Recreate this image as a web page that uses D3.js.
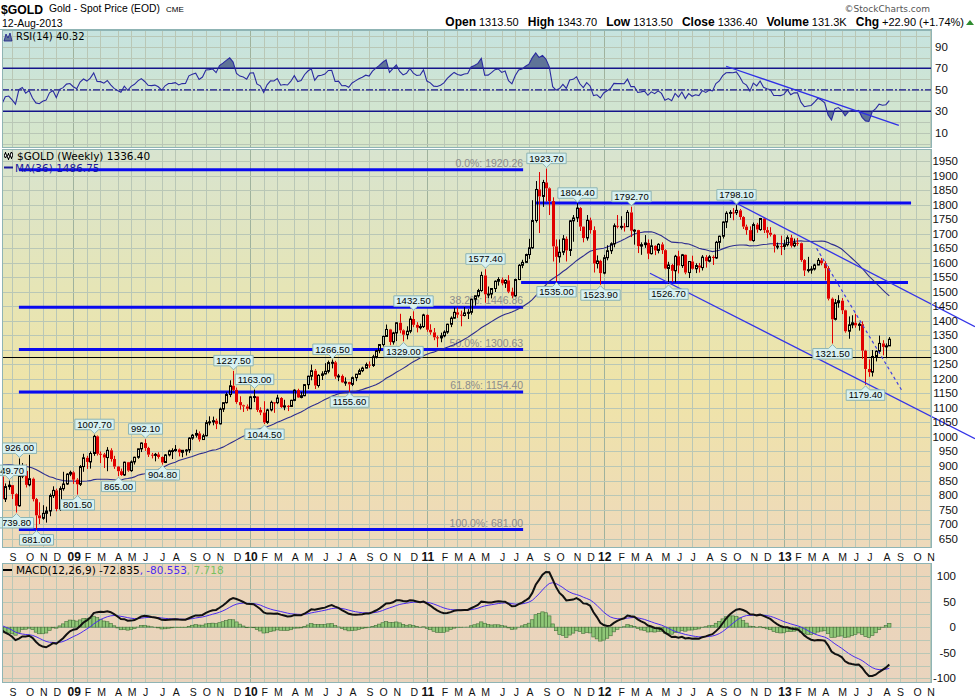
<!DOCTYPE html>
<html><head><meta charset="utf-8">
<script src="https://cdn.jsdelivr.net/npm/d3@7"></script>
<style>body{margin:0;background:#fff}svg{display:block}</style>
</head><body>
<svg id="c" width="975" height="700"></svg>
<script>
// ---------------- DATA ----------------
const firstWeek = "2008-08-11"; // Monday of first weekly bar
// weekly closes of the 36 weeks before the first bar (indicator warm-up)
const preCloses = [797,799,811,843,863,895,881,914,908,922,905,949,975,975,1000,918,933,913,925,922,888,854,884,889,925,884,900,872,903,929,932,965,956,927,913,864];
const closes = [786,829,834,803,763,865,883,835,856,786,730,720,737,745,798,816,752,822,838,872,878,853,837,898,928,914,943,1002,942,940,
929,954,924,898,882,869,913,884,914,930,959,979,962,939,937,940,931,912,938,952,953,957,947,954,955,996,1006,1012,991,1004,
1049,1052,1056,1045,1096,1118,1146,1176,1162,1120,1109,1105,1097,1138,1139,1093,1084,1050,1093,1119,1118,1134,1103,1107,1105,1126,1161,1136,1142,1180,
1209,1228,1177,1212,1217,1226,1256,1257,1208,1210,1188,1189,1181,1204,1216,1228,1237,1249,1246,1276,1297,1318,1346,1370,1327,1358,1393,1367,1352,1364,
1406,1386,1376,1380,1420,1369,1360,1343,1341,1348,1361,1388,1409,1429,1421,1418,1427,1429,1474,1486,1504,1556,1491,1492,1511,1536,1542,1529,1539,1500,
1486,1542,1591,1601,1628,1651,1745,1852,1828,1876,1856,1812,1656,1620,1636,1682,1642,1744,1754,1788,1724,1685,1746,1712,1597,1606,1564,1617,1641,1665,
1727,1725,1725,1724,1773,1710,1712,1657,1662,1668,1631,1658,1642,1663,1643,1580,1592,1572,1622,1590,1627,1566,1604,1579,1590,1583,1619,1605,1620,1616,
1670,1691,1740,1770,1773,1772,1780,1757,1724,1712,1676,1731,1714,1752,1712,1703,1696,1657,1657,1656,1662,1686,1658,1668,1667,1609,1573,1576,1578,1592,
1608,1598,1581,1476,1405,1462,1469,1436,1364,1386,1393,1384,1388,1297,1234,1223,1277,1295,1322,1310,1313.5,1336.4];
const highs = [868,840,849.7,834,806,926,910,905,938,860,790,775,765,760,805,830,822,830,880,875,884,882,858,903,942,935,950,1007.7,1005,950,
945,965,961,935,900,891,915,914,919,932,960,981,992.1,966,945,945,947,933,941,956,961,972,960,955,958,999,1010,1025,1019,1011,
1058,1071,1070,1063,1101,1119,1153,1195,1227.5,1170,1140,1111,1112,1140,1163,1140,1102,1123,1097,1125,1120,1145,1137,1128,1110,1128,1164,1166,1155,1182,
1211,1249,1234,1216,1226,1254,1263,1266.5,1262,1217,1215,1205,1190,1208,1217,1235,1242,1256,1260,1283,1300,1320,1349,1387,1372,1362,1395,1424,1370,1381,
1416,1432.5,1395,1390,1424,1422,1388,1375,1349,1359,1367,1390,1415,1445,1445,1435,1447,1440,1476,1487,1510,1569,1577.4,1518,1512,1539,1550,1549,1543,1557,
1514,1545,1595,1610,1631,1682,1815,1881,1912,1885,1923.7,1859,1825,1680,1680,1695,1690,1747,1764,1804.4,1791,1725,1764,1755,1725,1625,1610,1627,1660,1670,
1735,1764,1760,1736,1781,1792.7,1715,1713,1670,1695,1680,1680,1660,1667,1670,1646,1603,1596,1627,1641,1630,1628,1605,1624,1598,1599,1626,1626,1626,1625,
1675,1693,1742,1777,1781,1788,1798.1,1785,1760,1731,1725,1738,1737,1754,1755,1723,1722,1699,1669,1693,1679,1694,1696,1683,1685,1669,1612,1620,1588,1596,
1616,1616,1605,1588,1480,1475,1488,1478,1438,1415,1419,1424,1394,1398,1300,1267,1299,1298,1349,1333,1322,1343.7];
const lows = [776,776,818,786,739.8,760,858,826,830,778,681,700,715,705,727,790,744,745,815,835,865,838,801.5,831,880,890,891,935,936,910,
893,882,915,890,865,866,866,880,880,905,925,948,952,931,926,916,925,904.8,910,933,924,949,933,930,936,945,990,998,984,990,
1002,1040,1040,1027,1043,1086,1115,1137,1158,1114,1094,1086,1090,1096,1120,1086,1075,1044.5,1045,1088,1083,1113,1100,1092,1089,1103,1123,1134,1133,1140,
1165,1195,1165,1170,1196,1215,1219,1236,1200,1192,1186,1176,1155.6,1175,1192,1214,1223,1236,1238,1241,1270,1288,1310,1345,1316,1318,1330,1357,1329,1336,
1357,1378,1360,1370,1375,1362,1352,1333,1309,1326,1343,1355,1378,1407,1410,1381,1415,1406,1421,1452,1480,1500,1462,1478,1477,1499,1521,1522,1513,1495,
1478,1483,1540,1581,1600,1613,1648,1738,1702,1792,1810,1764,1604,1535,1600,1626,1604,1623,1672,1740,1709,1670,1676,1700,1566,1580,1523.9,1560,1608,1630,
1653,1718,1714,1707,1723,1688,1662,1633,1627,1651,1612,1628,1626,1632,1630,1577,1526.7,1534,1532,1563,1582,1560,1547,1576,1564,1566,1573,1583,1601,1592,
1613,1648,1683,1719,1754,1746,1764,1748,1716,1696,1674,1672,1703,1710,1702,1684,1690,1635,1646,1626,1644,1656,1652,1653,1658,1603,1554,1566,1562,1573,
1591,1591,1539,1470,1321.5,1401,1445,1423,1359,1338,1374,1376,1366,1269,1179.4,1207,1208,1260,1286,1281,1271,1313.5];

const priceTicks = [650,700,750,800,850,900,950,1000,1050,1100,1150,1200,1250,1300,1350,1400,1450,1500,1550,1600,1650,1700,1750,1800,1850,1900,1950];
const rsiTicks = [10,30,50,70,90];
const macdTicks = [-100,-50,0,50,100];
const monthLetters = ["J","F","M","A","M","J","J","A","S","O","N","D"];

// Fibonacci retracement levels (label, value) and their span in week index
const fibLabels = ["0.0%","38.2%","50.0%","61.8%","100.0%"];
const fibValues = [1920.26,1446.86,1300.63,1154.40,681.00];
const fibSpan = [5, 153.3];
// thick horizontal support/resistance lines: [fromWeek, toWeek, value]
const hLines = [[156.8, 267.4, 1805], [152.7, 266.5, 1531.5]];
const blackLine = 1276;
// thin trend lines: [[week, price],[week, price]]
const trendLines = [[[210.9,1835.4],[286.2,1379.6]], [[190.6,1563.4],[286.2,994]]];
const dashedTrend = [[239.6,1649.5],[264.6,1161.7]];
const rsiTrend = [[213,71.9],[263.8,17]];
// price annotations: [week, value, position]
const annotations = [[2,849.70,"a"],[4,739.80,"b"],[5,926.00,"a"],[10,681.00,"b"],[22,801.50,"b"],[27,1007.70,"a"],[34,865.00,"b"],
[42,992.10,"a"],[47,904.80,"b"],[68,1227.50,"a"],[74,1163.00,"a"],[77,1044.50,"b"],[97,1266.50,"a"],[102,1155.60,"b"],[118,1329.00,"b"],
[121,1432.50,"a"],[142,1577.40,"a"],[160,1923.70,"a"],[163,1535.00,"b"],[169,1804.40,"a"],[176,1523.90,"b"],[185,1792.70,"a"],
[196,1526.70,"b"],[216,1798.10,"a"],[244,1321.50,"b"],[254,1179.40,"b"]];

// ---------------- INDICATORS ----------------
const all = preCloses.concat(closes);
const N0 = preCloses.length;
function smaCalc(a,n){return a.map((v,i)=> i<n-1?null:d3.mean(a.slice(i-n+1,i+1)));}
function emaCalc(a,n,start){const o=new Array(a.length).fill(null);const k=2/(n+1);let s=0;for(let i=start;i<start+n;i++)s+=a[i];o[start+n-1]=s/n;for(let i=start+n;i<a.length;i++)o[i]=a[i]*k+o[i-1]*(1-k);return o;}
function rsiCalc(a,n){const o=new Array(a.length).fill(null);let g=0,l=0;for(let i=1;i<=n;i++){const d=a[i]-a[i-1];if(d>0)g+=d;else l-=d;}g/=n;l/=n;o[n]=100-100/(1+g/l);
 for(let i=n+1;i<a.length;i++){const d=a[i]-a[i-1];g=(g*(n-1)+Math.max(d,0))/n;l=(l*(n-1)+Math.max(-d,0))/n;o[i]=l===0?100:100-100/(1+g/l);}return o;}
const ma36 = smaCalc(all,36).slice(N0);
const rsi = rsiCalc(all,14).slice(N0);
const e12 = emaCalc(all,12,0), e26 = emaCalc(all,26,0);
const macdAll = all.map((v,i)=> i>=25 ? e12[i]-e26[i] : null);
const sigAll = emaCalc(macdAll,9,25);
const macd = macdAll.slice(N0), signal = sigAll.slice(N0);
const hist = macd.map((v,i)=>v-signal[i]);
const opens = closes.map((c,i)=> i===0 ? preCloses[preCloses.length-1] : closes[i-1]);

// ---------------- LAYOUT ----------------
const SANS="'Liberation Sans', Arial, sans-serif", VER="'DejaVu Sans', Verdana, sans-serif";
const PX0=2, PX1=932;
const P = {rsi:[30,148], main:[149,548], macd:[563,683]};
const x = d3.scaleLinear().domain([0,273.5]).range([1.9,931.8]);
const yP = d3.scaleLinear().domain([650,1950]).range([538.6,161]);
const yR = d3.scaleLinear().domain([30,70]).range([111.3,68.3]);
const yM = d3.scaleLinear().domain([-100,100]).range([678.3,576]);

const svg = d3.select("#c");
const defs = svg.append("defs");
function grad(id,stops,y0,y1){const g=defs.append("linearGradient").attr("id",id).attr("gradientUnits","userSpaceOnUse")
 .attr("x1",0).attr("x2",0).attr("y1",y0).attr("y2",y1);stops.forEach(([o,c])=>g.append("stop").attr("offset",o).attr("stop-color",c));}
grad("gR",[[0,"#c6e3df"],[1,"#d7e6c9"]],P.rsi[0],P.rsi[1]);
grad("gM",[[0,"#d8e4d0"],[0.35,"#e6e5b6"],[0.6,"#efe4a8"],[1,"#eed9bb"]],P.main[0],P.main[1]);
grad("gC",[[0,"#ecd5b9"],[1,"#e9d4be"]],P.macd[0],P.macd[1]);
Object.entries(P).forEach(([k,[a,b]])=>{defs.append("clipPath").attr("id","clip-"+k).append("rect").attr("x",PX0).attr("y",a).attr("width",PX1-PX0).attr("height",b-a);});

// month starts
const t0 = new Date(firstWeek+"T00:00:00Z");
const wd = i => new Date(t0.getTime()+i*7*864e5);
const months=[];
for(let i=1;i<=273;i++){const d=wd(i),p=wd(i-1);if(d.getUTCMonth()!==p.getUTCMonth())months.push({i,m:d.getUTCMonth(),y:d.getUTCFullYear()});}

function panel(key,fill,ys,yScale){
  const [a,b]=P[key];
  svg.append("rect").attr("x",PX0).attr("y",a).attr("width",PX1-PX0).attr("height",b-a).attr("fill",fill);
  const g=svg.append("g").attr("clip-path",`url(#clip-${key})`);
  g.selectAll("line.v").data(months).join("line").attr("x1",d=>Math.round(x(d.i))+0.5).attr("x2",d=>Math.round(x(d.i))+0.5)
   .attr("y1",a).attr("y2",b).attr("stroke",d=>d.m===0?"#9fb29d":"#b9c7b6").attr("stroke-width",1);
  g.selectAll("line.h").data(ys).join("line").attr("x1",PX0).attr("x2",PX1).attr("y1",d=>Math.round(yScale(d))+0.5).attr("y2",d=>Math.round(yScale(d))+0.5)
   .attr("stroke","#b9c7b6").attr("stroke-width",1);
}
panel("rsi","url(#gR)",d3.range(0,101,10),yR);
panel("main","url(#gM)",d3.range(600,2001,50),yP);
panel("macd","url(#gC)",d3.range(-100,126,25),yM);

// ---------------- HEADER ----------------
svg.append("text").attr("x",1).attr("y",14).attr("font-family",SANS).attr("font-weight","bold").attr("font-size",12.5)
 .attr("textLength",42).attr("lengthAdjust","spacingAndGlyphs").attr("fill","#000").text("$GOLD");
svg.append("text").attr("x",49).attr("y",12).attr("font-family",SANS).attr("font-size",10.5)
 .attr("textLength",111).attr("lengthAdjust","spacingAndGlyphs").attr("fill","#000").text("Gold - Spot Price (EOD)");
svg.append("text").attr("x",166).attr("y",12).attr("font-family",SANS).attr("font-size",8).attr("fill","#000").text("CME");
svg.append("text").attr("x",2).attr("y",26.5).attr("font-family",SANS).attr("font-size",10.5).attr("fill","#000").text("12-Aug-2013");
svg.append("text").attr("x",930).attr("y",12).attr("text-anchor","end").attr("font-family",VER).attr("font-size",9).attr("fill","#555").text("\u00A9StockCharts.com");
const info=svg.append("text").attr("x",964).attr("y",26).attr("text-anchor","end").attr("font-family",SANS).attr("fill","#000").attr("xml:space","preserve");
[["Open","1313.50"],["High","1343.70"],["Low","1313.50"],["Close","1336.40"],["Volume","131.3K"],["Chg","+22.90 (+1.74%)"]].forEach(([k,v],j)=>{
  info.append("tspan").attr("font-weight","bold").attr("font-size",12).attr("dx",j?9:0).text(k);
  info.append("tspan").attr("font-size",11).attr("dx",3).text(v);
});
svg.append("path").attr("d","M966,25 L970,20 L974,25 Z").attr("fill","#2e8b2e");

// ---------------- RSI ----------------
const gR = svg.append("g").attr("clip-path","url(#clip-rsi)");
const idx = d3.range(closes.length);
defs.append("clipPath").attr("id","above70").append("rect").attr("x",0).attr("y",0).attr("width",975).attr("height",yR(70));
defs.append("clipPath").attr("id","below30").append("rect").attr("x",0).attr("y",yR(30)).attr("width",975).attr("height",200);
gR.append("g").attr("clip-path","url(#above70)").append("path").datum(idx)
 .attr("d",d3.area().x(i=>x(i)).y0(yR(70)).y1(i=>yR(rsi[i]))).attr("fill","#5f7498");
gR.append("g").attr("clip-path","url(#below30)").append("path").datum(idx)
 .attr("d",d3.area().x(i=>x(i)).y0(yR(30)).y1(i=>yR(rsi[i]))).attr("fill","#5f7498");
[70,30].forEach(v=>gR.append("line").attr("x1",PX0).attr("x2",PX1).attr("y1",yR(v)).attr("y2",yR(v)).attr("stroke","#14148a").attr("stroke-width",1.5));
gR.append("line").attr("x1",PX0).attr("x2",PX1).attr("y1",yR(50)).attr("y2",yR(50)).attr("stroke","#14148a").attr("stroke-width",1.2).attr("stroke-dasharray","7,2,2,2");
gR.append("path").datum(idx).attr("d",d3.line().x(i=>x(i)).y(i=>yR(rsi[i]))).attr("fill","none").attr("stroke","#2a2aa0").attr("stroke-width",1.1);
svg.append("line").attr("x1",x(rsiTrend[0][0])).attr("y1",yR(rsiTrend[0][1])).attr("x2",x(rsiTrend[1][0])).attr("y2",yR(rsiTrend[1][1]))
 .attr("stroke","#2f2fe6").attr("stroke-width",1.3);
svg.append("path").attr("d","M4,41 L6,34 L8,38 L10,33 L12,41 Z").attr("fill","#5f7498").attr("stroke","#1a1a8c").attr("stroke-width",0.8);
svg.append("text").attr("x",16).attr("y",40).attr("font-family",VER).attr("font-size",10).attr("fill","#000").text("RSI(14) 40.32");

// ---------------- MAIN ----------------
const gM = svg.append("g").attr("clip-path","url(#clip-main)");
fibValues.forEach((v,j)=>{
  gM.append("line").attr("x1",x(fibSpan[0])).attr("x2",x(fibSpan[1])).attr("y1",yP(v)).attr("y2",yP(v)).attr("stroke","#0a0af0").attr("stroke-width",3);
  gM.append("text").attr("x",x(fibSpan[1])).attr("y",yP(v)-3).attr("text-anchor","end").attr("font-family",SANS).attr("font-size",10.5)
   .attr("fill","#8c8c8c").text(`${fibLabels[j]}: ${v.toFixed(2)}`);
});
hLines.forEach(([a,b,v])=>gM.append("line").attr("x1",x(a)).attr("x2",x(b)).attr("y1",yP(v)).attr("y2",yP(v)).attr("stroke","#0a0af0").attr("stroke-width",3));
gM.append("line").attr("x1",PX0).attr("x2",PX1).attr("y1",Math.round(yP(blackLine))+0.5).attr("y2",Math.round(yP(blackLine))+0.5).attr("stroke","#000").attr("stroke-width",1);
gM.append("path").datum(idx).attr("d",d3.line().x(i=>x(i)).y(i=>yP(ma36[i]))).attr("fill","none").attr("stroke","#2d2d8f").attr("stroke-width",1.1);
const cg = gM.append("g");
idx.forEach(i=>{
  const o=opens[i],c=closes[i],h=highs[i],l=lows[i];
  const up=c>=o, col=up?"#000":"#e00000";
  const px=Math.round(x(i));
  const top=yP(Math.max(o,c)), bot=yP(Math.min(o,c));
  cg.append("line").attr("x1",px+0.5).attr("x2",px+0.5).attr("y1",yP(h)).attr("y2",top).attr("stroke",col).attr("stroke-width",1);
  cg.append("line").attr("x1",px+0.5).attr("x2",px+0.5).attr("y1",bot).attr("y2",yP(l)).attr("stroke",col).attr("stroke-width",1);
  if(up) cg.append("rect").attr("x",px-0.5).attr("y",top).attr("width",2).attr("height",Math.max(bot-top,1)).attr("fill","none").attr("stroke",col).attr("stroke-width",1);
  else cg.append("rect").attr("x",px-1).attr("y",top).attr("width",3).attr("height",Math.max(bot-top,1)).attr("fill",col);
});
trendLines.forEach(([p,q])=>svg.append("line").attr("x1",x(p[0])).attr("y1",yP(p[1])).attr("x2",x(q[0])).attr("y2",yP(q[1])).attr("stroke","#3434e8").attr("stroke-width",1.3));
svg.append("line").attr("x1",x(dashedTrend[0][0])).attr("y1",yP(dashedTrend[0][1])).attr("x2",x(dashedTrend[1][0])).attr("y2",yP(dashedTrend[1][1]))
 .attr("stroke","#4040e0").attr("stroke-width",1.2).attr("stroke-dasharray","3,3");
const ag = svg.append("g");
annotations.forEach(([i,v,pos])=>{
  const cx=Math.round(x(i))+0.5, py=yP(v);
  const t=ag.append("text").attr("font-family",SANS).attr("font-size",9.5).attr("fill","#000").attr("text-anchor","middle").text(v.toFixed(2));
  const w=t.node().getComputedTextLength()+5, hh=10.5;
  let x0=cx-w/2, x1=cx+w/2, tx=cx;
  if(x0<-12){x0=-12;x1=x0+w;tx=x0+w/2;}
  let d,ty;
  if(pos==="a"){const tip=py-1, bb=tip-4, tt=bb-hh;
    d=`M${x0},${tt}H${x1}V${bb}H${cx+4}L${cx},${tip}L${cx-4},${bb}H${x0}Z`; ty=bb-2;}
  else {const tip=py+1, tt=tip+4, bb=tt+hh;
    d=`M${x0},${tt}H${cx-4}L${cx},${tip}L${cx+4},${tt}H${x1}V${bb}H${x0}Z`; ty=bb-2;}
  ag.insert("path","text").attr("d",d).attr("fill","#d8f1f1").attr("stroke","#8cb4b4").attr("stroke-width",1);
  t.attr("x",tx).attr("y",ty);
});
svg.append("g").call(g=>{
  [[5,152,158,154,157],[8,153,160,155,158],[11,152,159,153,157]].forEach(([xx,a,b,c1,c2])=>{
    g.append("line").attr("x1",xx+0.5).attr("x2",xx+0.5).attr("y1",a).attr("y2",b).attr("stroke","#000");
    g.append("rect").attr("x",xx-0.5).attr("y",c1).attr("width",2).attr("height",c2-c1).attr("fill","#fff").attr("stroke","#000").attr("stroke-width",0.8);
  });
});
svg.append("text").attr("x",17).attr("y",160).attr("font-family",VER).attr("font-size",10.5).attr("fill","#000").text("$GOLD (Weekly) 1336.40");
svg.append("line").attr("x1",4).attr("x2",13).attr("y1",167.5).attr("y2",167.5).attr("stroke","#1a1a9a").attr("stroke-width",2);
svg.append("text").attr("x",15).attr("y",172).attr("font-family",VER).attr("font-size",10.5).attr("fill","#1a1a9a").text("MA(36) 1486.75");

// ---------------- MACD ----------------
const gC = svg.append("g").attr("clip-path","url(#clip-macd)");
gC.selectAll("rect.h").data(idx).join("rect").attr("x",i=>x(i)-1.7).attr("width",3.4)
 .attr("y",i=>Math.min(yM(0),yM(hist[i]))).attr("height",i=>Math.abs(yM(hist[i])-yM(0)))
 .attr("fill","#8fc777").attr("stroke","#44703a").attr("stroke-width",0.6);
gC.append("path").datum(idx).attr("d",d3.line().x(i=>x(i)).y(i=>yM(signal[i]))).attr("fill","none").attr("stroke","#4a2af0").attr("stroke-width",1);
gC.append("path").datum(idx).attr("d",d3.line().x(i=>x(i)).y(i=>yM(macd[i]))).attr("fill","none").attr("stroke","#111").attr("stroke-width",2);
svg.append("line").attr("x1",3).attr("x2",12).attr("y1",570).attr("y2",570).attr("stroke","#000").attr("stroke-width",2);
const mt=svg.append("text").attr("x",16).attr("y",574).attr("font-family",VER).attr("font-size",10.5);
mt.append("tspan").attr("fill","#000").text("MACD(12,26,9) -72.835");
mt.append("tspan").attr("fill","#4a2af0").text(", -80.553");
mt.append("tspan").attr("fill","#77c060").text(", 7.718");

// ---------------- BORDERS ----------------
Object.values(P).forEach(([a,b])=>svg.append("rect").attr("x",PX0+0.5).attr("y",a+0.5).attr("width",PX1-PX0-1).attr("height",b-a-1)
 .attr("fill","none").attr("stroke","#8fb4b4").attr("stroke-width",1));
svg.append("line").attr("x1",0).attr("x2",PX1).attr("y1",29.5).attr("y2",29.5).attr("stroke","#8fb4b4");

// ---------------- AXES ----------------
function yAxis(ticks,scale,xp,anchor){
  svg.append("g").selectAll("text").data(ticks).join("text").attr("x",xp).attr("y",d=>scale(d)+4).attr("text-anchor",anchor)
   .attr("font-family",SANS).attr("font-size",11.5).attr("fill","#111").text(d=>d);
}
yAxis(priceTicks,yP,958,"end");
yAxis(rsiTicks,yR,935,"start");
yAxis(macdTicks,yM,956,"end");
function xAxis(yb){
  svg.append("g").selectAll("text").data(months).join("text").attr("x",d=>x(d.i)+1).attr("y",yb).attr("text-anchor","middle")
   .attr("font-family",SANS).attr("font-size",d=>d.m===0?12:10.5).attr("font-weight",d=>d.m===0?"bold":"normal").attr("fill","#111")
   .text(d=>d.m===0?String(d.y).slice(2):monthLetters[d.m]);
}
xAxis(560.5);
xAxis(695.5);
</script>
</body></html>
